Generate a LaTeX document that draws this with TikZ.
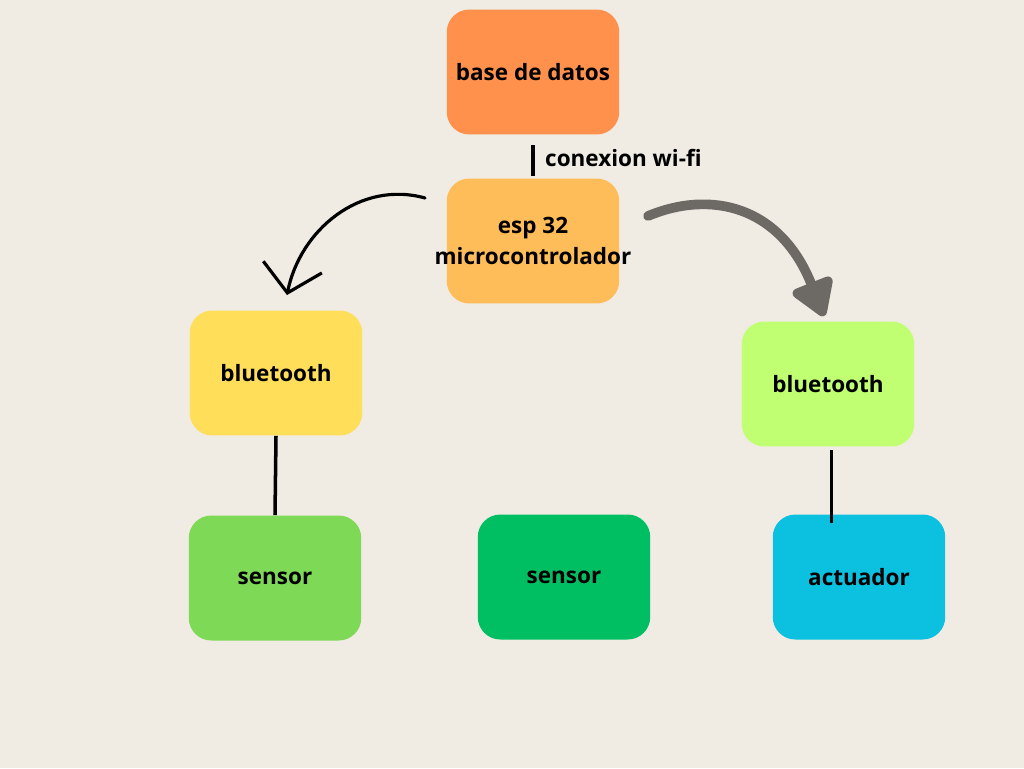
\documentclass[tikz,border=0pt]{standalone}
\usepackage{fontspec}
\setmainfont{Open Sans}
\usetikzlibrary{arrows.meta}
\definecolor{paper}{RGB}{240,235,227}
\definecolor{cBase}{RGB}{255,145,77}
\definecolor{cEsp}{RGB}{255,189,89}
\definecolor{cBtL}{RGB}{255,222,89}
\definecolor{cBtR}{RGB}{193,255,114}
\definecolor{cSenL}{RGB}{126,217,87}
\definecolor{cSenM}{RGB}{0,191,99}
\definecolor{cAct}{RGB}{12,192,223}
\definecolor{arrgray}{RGB}{109,106,102}
\begin{document}
\begin{tikzpicture}[x=0.02cm, y=-0.02cm,
	blob/.style={rounded corners=0.45cm, minimum width=3.45cm, minimum height=2.5cm, align=center, font=\fontsize{12.8}{17.5}\selectfont\bfseries, text=black},
	link/.style={draw=black, line width=2pt},
	]
	\fill[paper] (0,0) rectangle (1024,768);
	\node[blob, fill=cBase] (base) at (533,72) {base de datos};
	\node[blob, fill=cEsp] (esp) at (533,241) {esp 32\\\makebox[0pt]{microcontrolador}};
	\node[blob, fill=cBtL] (btL) at (276,373) {bluetooth};
	\node[blob, fill=cBtR] (btR) at (828,384) {bluetooth};
	\node[blob, fill=cSenL] (senL) at (275,578) {sensor};
	\node[blob, fill=cSenM] (senM) at (564,577) {sensor};
	\node[blob, fill=cAct] (act) at (859,577) {actuador};
	% links
	\draw[link, shorten <=6pt, shorten >=1pt] (base) -- (esp);
	\node[anchor=west, font=\fontsize{12.8}{17}\selectfont\bfseries] (wifi) at (539,158) {conexion wi-fi};
	\draw[link] (btL.south) -- (senL.north);
	\draw[link, shorten <=2pt] ([xshift=2]btR.south) -- ([xshift=2, yshift=-5]btR.south |- act.north);
	% arrows
	\coordinate (l0) at (425,198);
	\coordinate (l1) at (287,295);
	\draw[black, line width=1.8pt, line cap=round, -{Straight Barb[length=15pt, width=34pt, line width=1.8pt]}]
		(l0) .. controls (360,180) and (300,230) .. (l1);
	\coordinate (r0) at (648,216);
	\coordinate (r1) at (824,316);
	\draw[arrgray, line width=5.5pt, line cap=round, -{Triangle[length=23pt, width=27pt, round]}]
		(r0) .. controls (710,190) and (780,205) .. (r1);
\end{tikzpicture}
\end{document}
